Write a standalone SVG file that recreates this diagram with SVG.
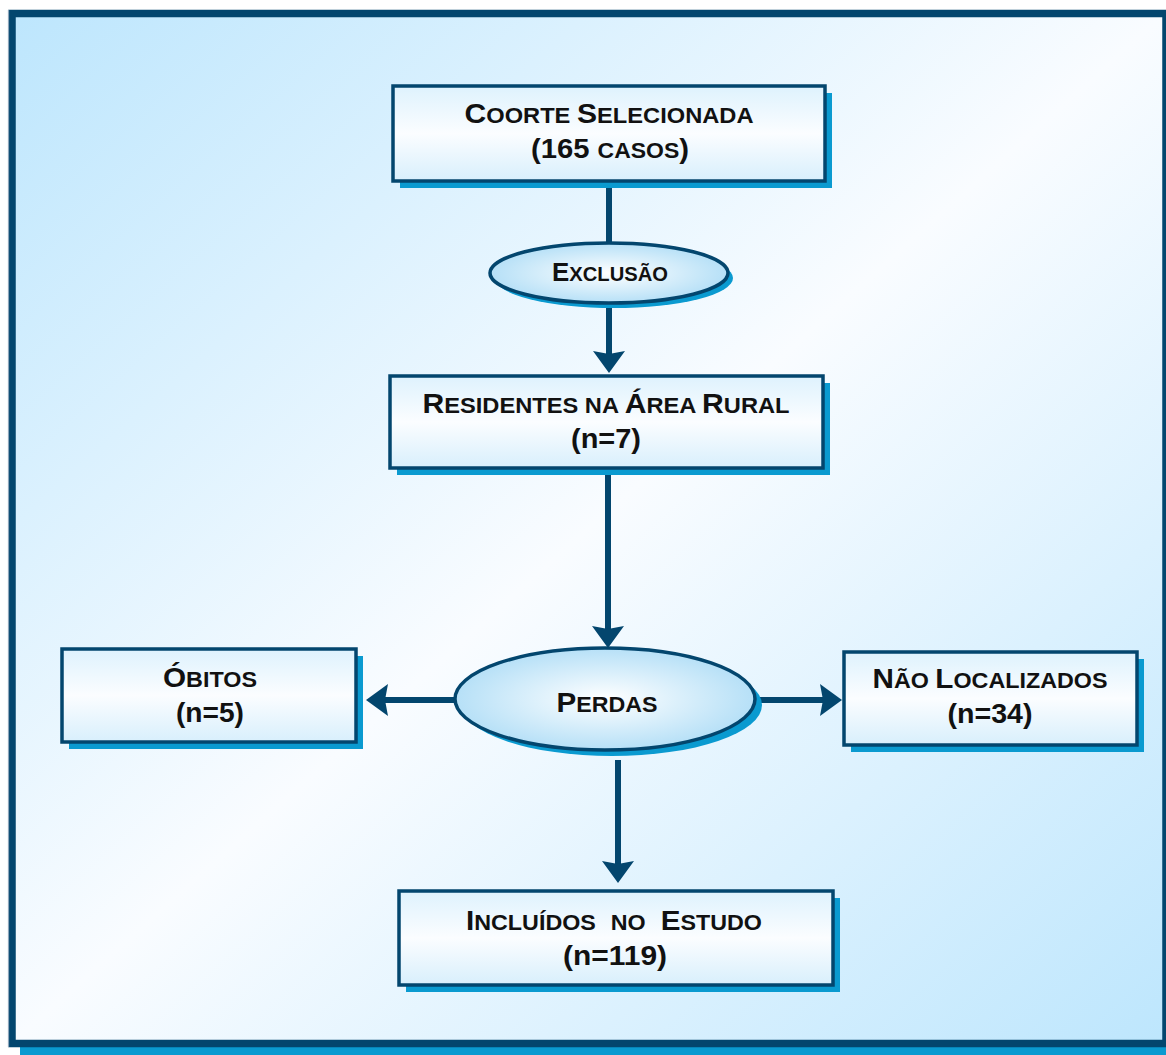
<svg xmlns="http://www.w3.org/2000/svg" width="1166" height="1055" viewBox="0 0 1166 1055">
<style>
.frame{fill:url(#bg);stroke:#03466e;stroke-width:7.5}
.box{fill:url(#boxg);stroke:#03466e;stroke-width:3.5}
.ell{fill:url(#ellg);stroke:#03466e;stroke-width:3.5}
.sh{fill:#0a9ad0}
.t{font-family:"Liberation Sans",Arial,sans-serif;font-weight:bold;font-size:28px;fill:#111;text-anchor:middle}
.s{font-size:22px}
.t2{font-size:25px}
.s2{font-size:19.5px}
.con line{stroke:#03466e;stroke-width:6;fill:none}
</style>
<defs>
<linearGradient id="bg" x1="0" y1="0" x2="1" y2="1">
<stop offset="0" stop-color="#bde6fd"/>
<stop offset="0.5" stop-color="#f9fcff"/>
<stop offset="1" stop-color="#bde6fd"/>
</linearGradient>
<linearGradient id="boxg" x1="0" y1="0" x2="0" y2="1">
<stop offset="0" stop-color="#def2fd"/>
<stop offset="0.5" stop-color="#fbfdff"/>
<stop offset="1" stop-color="#d8effc"/>
</linearGradient>
<radialGradient id="ellg" cx="0.5" cy="0.5" r="0.5">
<stop offset="0" stop-color="#ffffff"/>
<stop offset="1" stop-color="#b6e0f7"/>
</radialGradient>
<marker id="ah" markerUnits="userSpaceOnUse" viewBox="-10 -20 30 40" refX="0" refY="0" markerWidth="30" markerHeight="40" orient="auto" overflow="visible">
<path d="M-7,-16 L15,0 L-7,16 L-4,0 Z" fill="#03466e"/>
</marker>
</defs>
<g id="frame">
<rect class="sh" x="20" y="21" width="1160" height="1034"/>
<rect class="frame" x="12" y="13.5" width="1154" height="1030"/>
<line x1="8.5" y1="10" x2="8.5" y2="1047" stroke="#8ea6bb" stroke-width="1.2"/>
</g>
<g class="con" id="connectors">
<line x1="609" y1="183" x2="609" y2="244"/>
<line x1="609" y1="302" x2="609" y2="358" marker-end="url(#ah)"/>
<line x1="608" y1="470" x2="608" y2="633" marker-end="url(#ah)"/>
<line x1="455" y1="700" x2="381" y2="700" marker-end="url(#ah)"/>
<line x1="757" y1="700" x2="827" y2="700" marker-end="url(#ah)"/>
<line x1="618" y1="760" x2="618" y2="868" marker-end="url(#ah)"/>
</g>
<g id="coorte">
<rect class="sh" x="400" y="93" width="432" height="95"/>
<rect class="box" x="393" y="86" width="432" height="95"/>
<text class="t" x="609" y="123" textLength="289" lengthAdjust="spacingAndGlyphs">C<tspan class="s">OORTE </tspan>S<tspan class="s">ELECIONADA</tspan></text>
<text class="t" x="610" y="158" textLength="158" lengthAdjust="spacingAndGlyphs">(165 <tspan class="s">CASOS</tspan>)</text>
</g>
<g id="exclusao">
<ellipse class="sh" cx="614" cy="278" rx="119" ry="30"/>
<ellipse class="ell" cx="609" cy="273" rx="119" ry="30"/>
<text class="t t2" x="610" y="281" textLength="116" lengthAdjust="spacingAndGlyphs">E<tspan class="s2">XCLUSÃO</tspan></text>
</g>
<g id="residentes">
<rect class="sh" x="397" y="383" width="433" height="92"/>
<rect class="box" x="390" y="376" width="433" height="92"/>
<text class="t" x="606" y="413" textLength="367" lengthAdjust="spacingAndGlyphs">R<tspan class="s">ESIDENTES NA </tspan>Á<tspan class="s">REA </tspan>R<tspan class="s">URAL</tspan></text>
<text class="t" x="606" y="448" textLength="70" lengthAdjust="spacingAndGlyphs">(n=7)</text>
</g>
<g id="perdas">
<ellipse class="sh" cx="612" cy="705" rx="150" ry="51"/>
<ellipse class="ell" cx="605" cy="699" rx="150" ry="51"/>
<text class="t" x="607" y="712" textLength="101" lengthAdjust="spacingAndGlyphs">P<tspan class="s">ERDAS</tspan></text>
</g>
<g id="obitos">
<rect class="sh" x="69" y="656" width="294" height="93"/>
<rect class="box" x="62" y="649" width="294" height="93"/>
<text class="t" x="210" y="687" textLength="94" lengthAdjust="spacingAndGlyphs">Ó<tspan class="s">BITOS</tspan></text>
<text class="t" x="210" y="722" textLength="68" lengthAdjust="spacingAndGlyphs">(n=5)</text>
</g>
<g id="naolocalizados">
<rect class="sh" x="851" y="659" width="293" height="93"/>
<rect class="box" x="844" y="652" width="293" height="93"/>
<text class="t" x="990" y="688" textLength="235" lengthAdjust="spacingAndGlyphs">N<tspan class="s">ÃO </tspan>L<tspan class="s">OCALIZADOS</tspan></text>
<text class="t" x="990" y="723" textLength="85" lengthAdjust="spacingAndGlyphs">(n=34)</text>
</g>
<g id="incluidos">
<rect class="sh" x="406" y="898" width="434" height="94"/>
<rect class="box" x="399" y="891" width="434" height="94"/>
<text class="t" x="614" y="930" textLength="296" lengthAdjust="spacingAndGlyphs" word-spacing="8">I<tspan class="s">NCLUÍDOS NO </tspan>E<tspan class="s">STUDO</tspan></text>
<text class="t" x="615" y="965" textLength="104" lengthAdjust="spacingAndGlyphs">(n=119)</text>
</g>
</svg>
